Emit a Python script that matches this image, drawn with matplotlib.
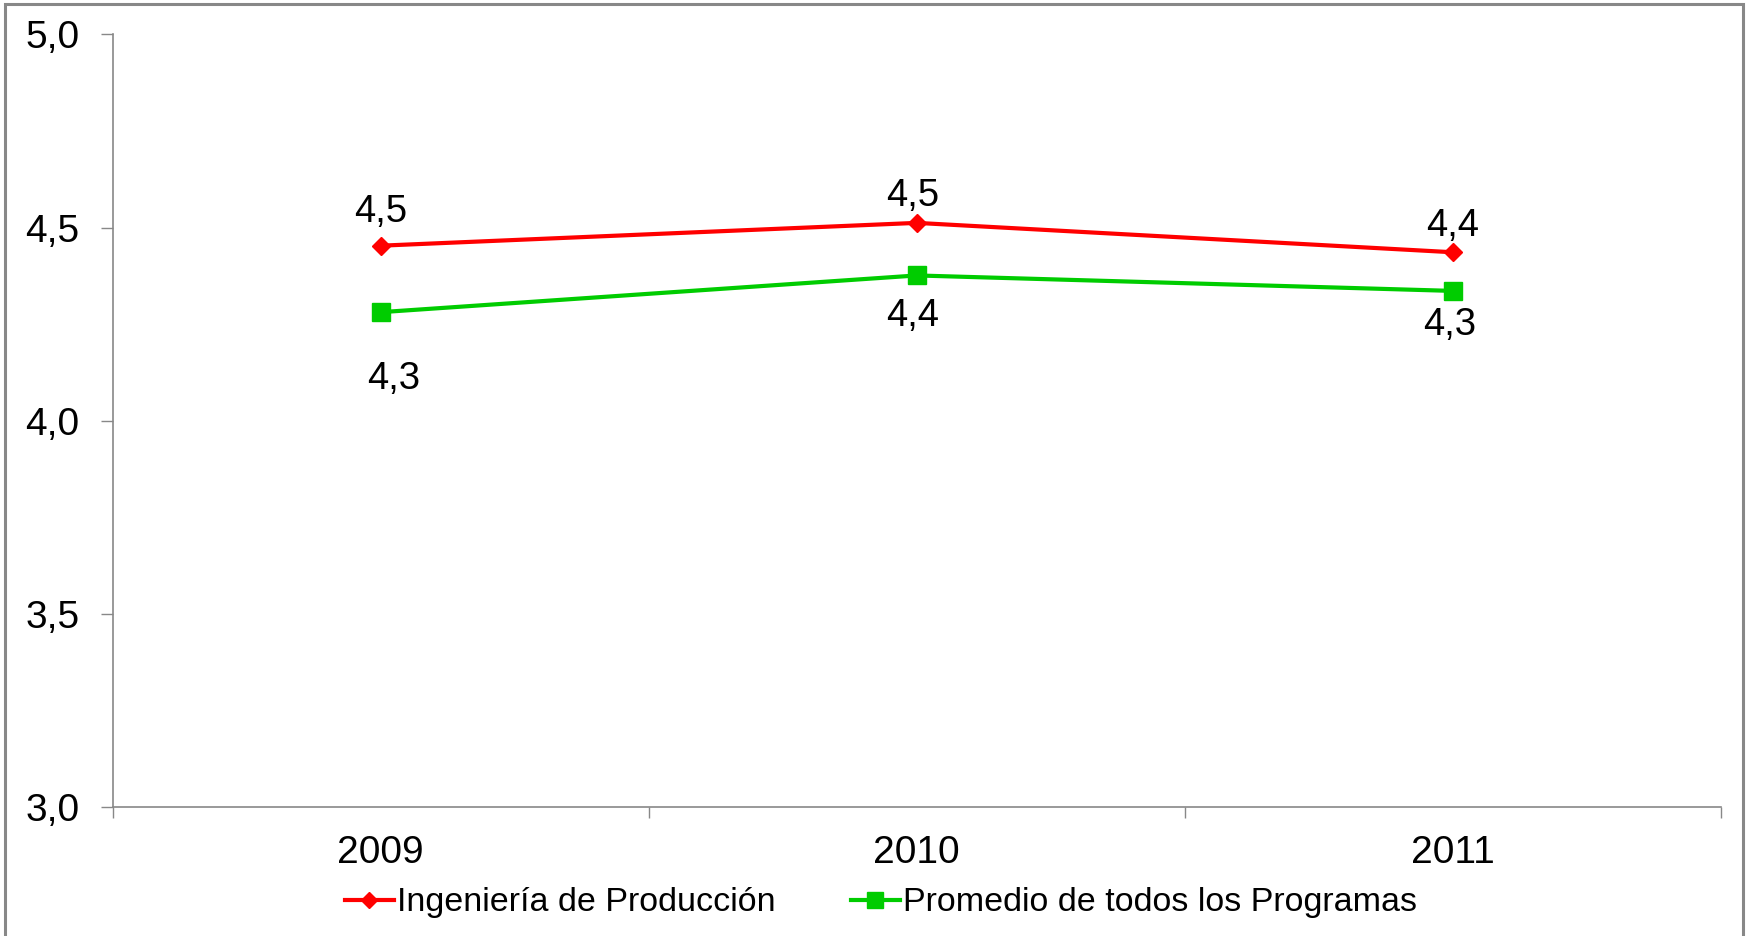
import matplotlib
matplotlib.use("Agg")
import matplotlib.pyplot as plt
from matplotlib.patches import Rectangle

plt.rcParams['font.family'] = ['Liberation Sans', 'DejaVu Sans']

years = ["2009", "2010", "2011"]
ing_prod = [4.453, 4.512, 4.436]
promedio = [4.281, 4.376, 4.336]
series_names = ["Ingeniería de Producción", "Promedio de todos los Programas"]
y_ticks = [3.0, 3.5, 4.0, 4.5, 5.0]

# label offsets in points (layout only)
red_offsets = [(0, 24), (-3, 19.5), (0, 19)]
green_offsets = [(9, -48), (-3, -29.5), (-2, -24.5)]

fig = plt.figure(figsize=(17.48, 9.36), dpi=100)
ax = fig.add_axes([0.0645, 0.1375, 0.9199, 0.8259])

x = list(range(len(years)))
ax.plot(x, ing_prod, color="#FF0000", lw=3, marker="D", ms=9.5,
        label=series_names[0], zorder=3)
ax.plot(x, promedio, color="#00CC00", lw=3, marker="s", ms=13,
        label=series_names[1], zorder=3)

fmt = lambda v: f"{v:.1f}".replace(".", ",")
for xi, v, off in zip(x, ing_prod, red_offsets):
    ax.annotate(fmt(v), (xi, v), xytext=off, textcoords="offset points",
                ha="center", va="center", fontsize=27.5)
for xi, v, off in zip(x, promedio, green_offsets):
    ax.annotate(fmt(v), (xi, v), xytext=off, textcoords="offset points",
                ha="center", va="center", fontsize=27.5)

ax.set_xlim(-0.5, len(years) - 0.5)
ax.set_ylim(3.0, 5.0)
ax.set_yticks(y_ticks)
ax.set_yticklabels([fmt(t) for t in y_ticks], fontsize=28)
ax.set_xticks(x)
ax.set_xticklabels(years, fontsize=28)
ax.set_xticks([i - 0.5 for i in range(len(years) + 1)], minor=True)
ax.tick_params(axis="x", which="major", length=0, pad=20)
ax.tick_params(axis="x", which="minor", length=8, width=1, color="#888888", direction="out")
ax.tick_params(axis="y", which="major", length=9, width=1, color="#888888", pad=15)

for s in ["top", "right"]:
    ax.spines[s].set_visible(False)
for s in ["left", "bottom"]:
    ax.spines[s].set_color("#888888")
    ax.spines[s].set_linewidth(1.2)

leg = fig.legend(loc="center", bbox_to_anchor=(0.504, 1 - 903 / 936), ncol=2,
                 frameon=False, fontsize=24.5, handlelength=1.45, handletextpad=0.1,
                 columnspacing=2.2, markerscale=0.85)

fig.patches.append(Rectangle((5 / 1748, -0.05), 1738 / 1748, 1.05 - 4 / 936,
                             transform=fig.transFigure, fill=False,
                             edgecolor="#888888", lw=2.2))

fig.savefig("out.png", dpi=100)
